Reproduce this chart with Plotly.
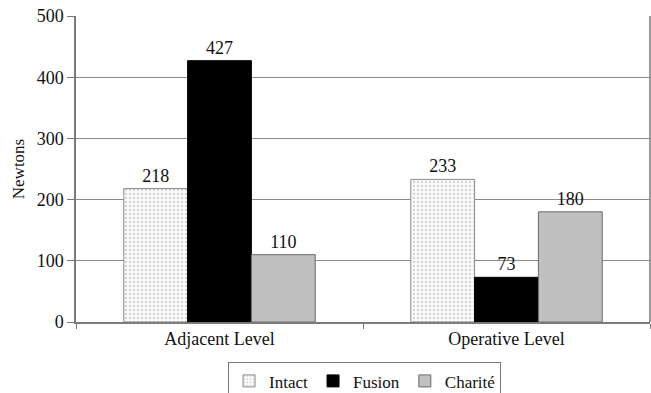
import plotly.graph_objects as go

categories = ["Adjacent Level", "Operative Level"]
intact = [218, 233]
fusion = [427, 73]
charite = [110, 180]
series_names = ["Intact", "Fusion", "Charité"]
y_ticks = [0, 100, 200, 300, 400, 500]

FONT = "Liberation Serif, Times New Roman, serif"
AX = "#7a7a7a"

fig = go.Figure()
fig.add_trace(go.Bar(
    name=series_names[0], x=categories, y=intact,
    text=[str(v) for v in intact], textposition="outside",
    marker=dict(color="#f4f4f4", line=dict(color="#8a8a8a", width=1),
                pattern=dict(shape=".", fgcolor="#a8a8a8", bgcolor="#fafafa", size=4, solidity=0.25)),
))
fig.add_trace(go.Bar(
    name=series_names[1], x=categories, y=fusion,
    text=[str(v) for v in fusion], textposition="outside",
    marker=dict(color="#000000", line=dict(color="#000000", width=1)),
))
fig.add_trace(go.Bar(
    name=series_names[2], x=categories, y=charite,
    text=[str(v) for v in charite], textposition="outside",
    marker=dict(color="#c0c0c0", line=dict(color="#6a6a6a", width=1)),
))

fig.update_traces(textfont=dict(family=FONT, size=18, color="#111111"), cliponaxis=False)

fig.update_layout(
    width=651, height=393,
    margin=dict(l=76, r=1, t=16, b=71, autoexpand=False),
    paper_bgcolor="white", plot_bgcolor="white",
    font=dict(family=FONT, size=18, color="#111111"),
    barmode="group", bargap=0.333, bargroupgap=0,
    showlegend=True,
    legend=dict(orientation="h", x=0.56, xanchor="center", xref="container",
                y=0.078, yanchor="top", yref="container",
                bordercolor="#7a7a7a", borderwidth=1, font=dict(family=FONT, size=17),
                itemwidth=30, tracegroupgap=0, bgcolor="white"),
    xaxis=dict(showline=True, linecolor=AX, linewidth=1.5, ticks="outside", ticklen=5,
               tickcolor=AX, tickson="boundaries", showgrid=False, automargin=False,
               tickfont=dict(family=FONT, size=18)),
    yaxis=dict(range=[0, 500], tickvals=y_ticks, showline=True, linecolor=AX, linewidth=1.5,
               ticks="outside", ticklen=7, tickcolor=AX, showgrid=True, gridcolor="#8a8a8a",
               gridwidth=1, zeroline=False, tickfont=dict(family=FONT, size=18), automargin=False,
               title=dict(text="Newtons", font=dict(family=FONT, size=17), standoff=8)),
)
fig.add_shape(type="line", xref="paper", yref="paper", x0=1, x1=1, y0=0, y1=1,
              line=dict(color=AX, width=1.5))

fig.write_html("out.html", config={"displayModeBar": False},
               post_script="document.body.style.margin='0px';document.body.style.overflow='hidden';")
